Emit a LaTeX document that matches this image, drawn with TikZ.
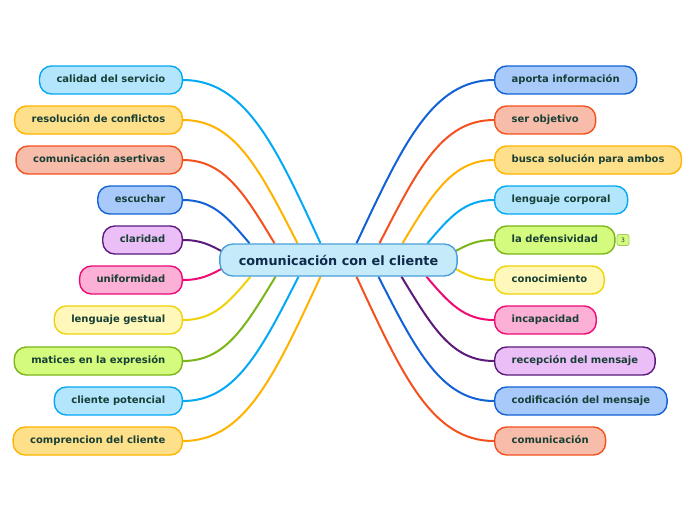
\documentclass[tikz,border=0pt]{standalone}
\usepackage{fontspec}
\setmainfont{DejaVu Sans}
\usepackage{tikz}
\usetikzlibrary{backgrounds}

\definecolor{leaftext}{HTML}{173F35}
\definecolor{hubtext}{HTML}{0F2A4A}
\definecolor{hubfill}{HTML}{C5EBFB}
\definecolor{hubline}{HTML}{4A9FD8}
\definecolor{cyanfill}{HTML}{B3E5FC}
\definecolor{cyanline}{HTML}{03A9F4}
\definecolor{amberfill}{HTML}{FFE08A}
\definecolor{amberline}{HTML}{FFB300}
\definecolor{salmonfill}{HTML}{F8BDAA}
\definecolor{salmonline}{HTML}{F4511E}
\definecolor{bluefill}{HTML}{A7CAFB}
\definecolor{blueline}{HTML}{1262D6}
\definecolor{purplefill}{HTML}{EBBEF8}
\definecolor{purpleline}{HTML}{5C1A7A}
\definecolor{pinkfill}{HTML}{FDB0D5}
\definecolor{pinkline}{HTML}{F00A73}
\definecolor{yellowfill}{HTML}{FFF8BA}
\definecolor{yellowline}{HTML}{EFD20A}
\definecolor{greenfill}{HTML}{D4FA7E}
\definecolor{greenline}{HTML}{7CB518}

\begin{document}
\begin{tikzpicture}[x=1pt,y=-1pt]
    \tikzset{
        leafbox/.style={line width=1.4pt,rounded corners=12pt,
            minimum height=28pt,inner xsep=17pt,inner ysep=0pt,
            text height=7.5pt,text depth=2pt,text=leaftext,
            font=\fontsize{10}{12}\selectfont\bfseries},
        hubbox/.style={line width=1.4pt,rounded corners=13pt,
            fill=hubfill,draw=hubline,minimum height=32pt,
            inner xsep=19pt,inner ysep=0pt,text=hubtext,
            font=\fontsize{12.8}{15}\selectfont\bfseries},
        badgebox/.style={line width=0.8pt,rounded corners=2pt,
            fill=greenfill,draw=greenline!70,text=leaftext,
            minimum width=12pt,minimum height=11pt,inner sep=0pt,
            font=\fontsize{6}{7}\selectfont},
        link/.style={line width=2pt},
        cyanbox/.style={fill=cyanfill,draw=cyanline},
        amberbox/.style={fill=amberfill,draw=amberline},
        salmonbox/.style={fill=salmonfill,draw=salmonline},
        bluebox/.style={fill=bluefill,draw=blueline},
        purplebox/.style={fill=purplefill,draw=purpleline},
        pinkbox/.style={fill=pinkfill,draw=pinkline},
        yellowbox/.style={fill=yellowfill,draw=yellowline},
        greenbox/.style={fill=greenfill,draw=greenline}
    }
    \useasboundingbox (0,0) rectangle (696,520);

    \node[hubbox] (hub) at (338.5,260) {comunicación con el cliente};

    % left branch
    \node[leafbox,cyanbox,anchor=east] (calidad) at (183,80) {calidad del servicio};
    \node[leafbox,amberbox,anchor=east] (resol) at (183,120) {resolución de conflictos};
    \node[leafbox,salmonbox,anchor=east] (asert) at (183,160) {comunicación asertivas};
    \node[leafbox,bluebox,anchor=east] (escuchar) at (183,200) {escuchar};
    \node[leafbox,purplebox,anchor=east] (claridad) at (183,240) {claridad};
    \node[leafbox,pinkbox,anchor=east] (uniform) at (183,280) {uniformidad};
    \node[leafbox,yellowbox,anchor=east] (gestual) at (183,320) {lenguaje gestual};
    \node[leafbox,greenbox,anchor=east] (matices) at (183,361) {matices en la expresión};
    \node[leafbox,cyanbox,anchor=east] (potencial) at (183,401) {cliente potencial};
    \node[leafbox,amberbox,anchor=east] (compren) at (183,441) {comprencion del cliente};

    % right branch
    \node[leafbox,bluebox,anchor=west] (aporta) at (494,80) {aporta información};
    \node[leafbox,salmonbox,anchor=west] (objetivo) at (494,120) {ser objetivo};
    \node[leafbox,amberbox,anchor=west] (busca) at (494,160) {busca solución para ambos};
    \node[leafbox,cyanbox,anchor=west] (corporal) at (494,200) {lenguaje corporal};
    \node[leafbox,greenbox,anchor=west] (defens) at (494,240) {la defensividad};
    \node[leafbox,yellowbox,anchor=west] (conoc) at (494,280) {conocimiento};
    \node[leafbox,pinkbox,anchor=west] (incap) at (494,320) {incapacidad};
    \node[leafbox,purplebox,anchor=west] (recep) at (494,361) {recepción del mensaje};
    \node[leafbox,bluebox,anchor=west] (codif) at (494,401) {codificación del mensaje};
    \node[leafbox,salmonbox,anchor=west] (comun) at (494,441) {comunicación};

    \node[badgebox] (count) at (623,240) {3};

    \begin{pgfonlayer}{background}
        \fill[white] (0,0) rectangle (696,520);
        % links to the left
        \draw[link,cyanline] (calidad.east) .. controls +(62,0) and +(-45,-98) .. ([xshift=-18pt]hub.north);
        \draw[link,amberline] (resol.east) .. controls +(52,0) and +(-38,-74) .. ([xshift=-41pt]hub.north);
        \draw[link,salmonline] (asert.east) .. controls +(41,0) and +(-30,-50) .. ([xshift=-64pt]hub.north);
        \draw[link,blueline] (escuchar.east) .. controls +(30,0) and +(-22,-26) .. ([xshift=-89pt]hub.north);
        \draw[link,purpleline] (claridad.east) .. controls +(18,0) and +(-13,-7) .. ([xshift=4pt,yshift=8pt]hub.west);
        \draw[link,pinkline] (uniform.east) .. controls +(18,0) and +(-13,7) .. ([xshift=4pt,yshift=-8pt]hub.west);
        \draw[link,yellowline] (gestual.east) .. controls +(31,0) and +(-22,26) .. ([xshift=-88pt]hub.south);
        \draw[link,greenline] (matices.east) .. controls +(42,0) and +(-31,51) .. ([xshift=-63pt]hub.south);
        \draw[link,cyanline] (potencial.east) .. controls +(52,0) and +(-38,75) .. ([xshift=-40pt]hub.south);
        \draw[link,amberline] (compren.east) .. controls +(62,0) and +(-46,99) .. ([xshift=-18pt]hub.south);
        % links to the right
        \draw[link,blueline] (aporta.west) .. controls +(-62,0) and +(46,-98) .. ([xshift=18pt]hub.north);
        \draw[link,salmonline] (objetivo.west) .. controls +(-52,0) and +(38,-74) .. ([xshift=41pt]hub.north);
        \draw[link,amberline] (busca.west) .. controls +(-41,0) and +(30,-50) .. ([xshift=64pt]hub.north);
        \draw[link,cyanline] (corporal.west) .. controls +(-30,0) and +(22,-26) .. ([xshift=89pt]hub.north);
        \draw[link,greenline] (defens.west) .. controls +(-18,0) and +(13,-7) .. ([xshift=-4pt,yshift=8pt]hub.east);
        \draw[link,yellowline] (conoc.west) .. controls +(-18,0) and +(13,7) .. ([xshift=-4pt,yshift=-8pt]hub.east);
        \draw[link,pinkline] (incap.west) .. controls +(-30,0) and +(22,26) .. ([xshift=88pt]hub.south);
        \draw[link,purpleline] (recep.west) .. controls +(-42,0) and +(31,51) .. ([xshift=63pt]hub.south);
        \draw[link,blueline] (codif.west) .. controls +(-52,0) and +(38,75) .. ([xshift=40pt]hub.south);
        \draw[link,salmonline] (comun.west) .. controls +(-62,0) and +(46,99) .. ([xshift=18pt]hub.south);
    \end{pgfonlayer}
\end{tikzpicture}
\end{document}
